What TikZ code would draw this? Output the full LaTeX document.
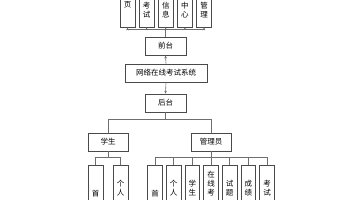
\documentclass[tikz,border=0pt]{standalone}
\usepackage{fontspec}
\newfontfamily\cjk{Noto Sans CJK SC}
\definecolor{boxline}{HTML}{4A4A4A}
\definecolor{connline}{HTML}{6E6E6E}
\usetikzlibrary{arrows.meta, positioning}
\tikzset{
	mbox/.style={draw=boxline, fill=white, line width=0.6pt, minimum width=41pt,
		minimum height=18pt, inner sep=0pt, font=\cjk\fontsize{7.5}{9}\selectfont},
	vbox/.style={draw=boxline, fill=white, line width=0.6pt, minimum width=15pt,
		minimum height=63pt, inner sep=0pt},
	vtxt/.style={align=center, inner sep=0pt, anchor=north,
		font=\cjk\fontsize{7.5}{9}\selectfont},
	conn/.style={draw=connline, line width=0.6pt},
	carr/.style={conn, -{Stealth[length=3pt, width=2.6pt]}}
}

\begin{document}
\begin{tikzpicture}[x=1pt, y=-1pt]
	\useasboundingbox (0,0) rectangle (356,200);
	\clip (0,0) rectangle (356,200);
	% main column
	\node[mbox] (qt) at (165.5,46) {前台};
	\node[mbox, minimum width=82pt] (wl) at (166,73) {网络在线考试系统};
	\node[mbox] (ht) at (165.5,103) {后台};
	\node[mbox, minimum width=40pt] (xs) at (108,142) {学生};
	\node[mbox, minimum width=40pt] (gly) at (211,142) {管理员};
	\draw[carr] (wl.north) -- (qt.south);
	\draw[carr] (wl.south) -- (ht.north);
	\draw[conn] (ht.south) -- ++(0,7) -| (xs.north);
	\draw[conn] (ht.south) -- ++(0,7) -| (gly.north);
	% front pages
	\foreach \x/\t [count=\i] in {127.5/页, 146.6/{考\\试}, 165.75/{信\\息}, 184.9/{中\\心}, 204/{管\\理}} {
		\node[vbox] (qp\i) at (\x,-4.5) {};
		\node[vtxt] (qpt\i) at (\x,1.7) {\t};
		\draw[carr] (qt.north) -- ++(0,-7) -| (qp\i.south);
	}
	% student pages
	\foreach \x/\t/\ty [count=\i] in {95.5/首/193, 120.5/{个\\人}/183} {
		\node[vbox] (xp\i) at (\x,196.5) {};
		\node[vtxt] (xpt\i) at (\x,\ty-3.3) {\t};
		\draw[conn] (xs.south) -- ++(0,6) -| (xp\i.north);
	}
	% admin pages
	\foreach \t/\ty [count=\i] in {首/193, {个\\人}/183, {学\\生}/183, {在\\线\\考}/174, {试\\题}/183, {成\\绩}/183, {考\\试}/183} {
		\node[vbox, minimum width=14.5pt] (gp\i) at ({136.33+18.67*\i},196.5) {};
		\node[vtxt] (gpt\i) at ({136.33+18.67*\i},\ty-3.3) {\t};
		\draw[conn] (gly.south) -- ++(0,6) -| (gp\i.north);
	}
\end{tikzpicture}
\end{document}
